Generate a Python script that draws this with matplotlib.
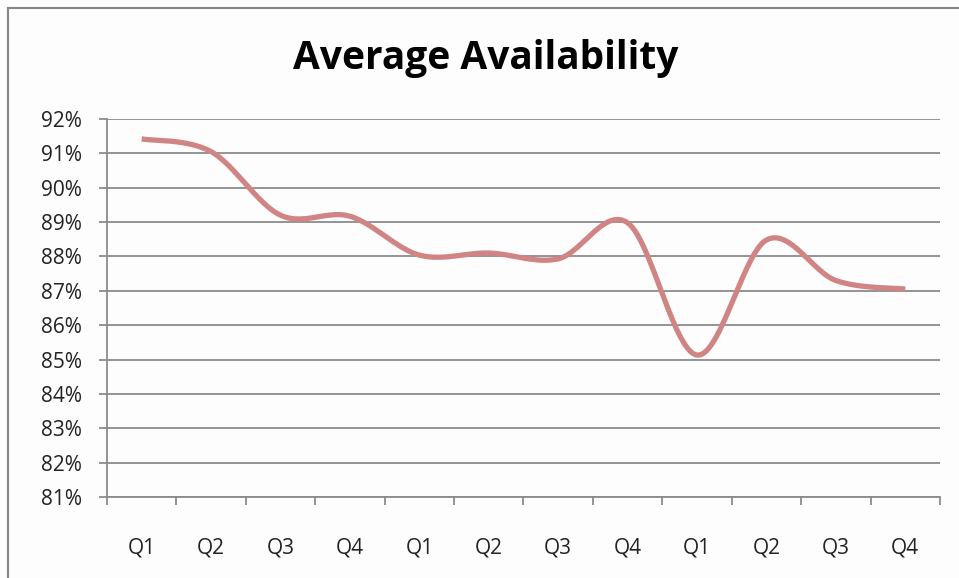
import numpy as np
import matplotlib
matplotlib.use("Agg")
import matplotlib.pyplot as plt
from matplotlib.lines import Line2D
from matplotlib.ticker import FixedLocator, FuncFormatter

quarters = ["Q1", "Q2", "Q3", "Q4", "Q1", "Q2", "Q3", "Q4", "Q1", "Q2", "Q3", "Q4"]
availability = [91.42, 91.05, 89.2, 89.17, 88.04, 88.1, 87.93, 88.98, 85.13, 88.48, 87.3, 87.05]
y_ticks = [81, 82, 83, 84, 85, 86, 87, 88, 89, 90, 91, 92]

plt.rcParams['font.family'] = ['Open Sans', 'DejaVu Sans']


def smooth_line(x, y, steps=30):
    # excel style smoothing: bezier segments with catmull-rom control points
    x = np.asarray(x, float)
    y = np.asarray(y, float)
    px = np.concatenate(([x[0]], x, [x[-1]]))
    py = np.concatenate(([y[0]], y, [y[-1]]))
    xs, ys = [], []
    t = np.linspace(0, 1, steps)
    for i in range(1, len(px) - 2):
        p0 = np.array([px[i], py[i]])
        p3 = np.array([px[i + 1], py[i + 1]])
        p1 = p0 + (p3 - np.array([px[i - 1], py[i - 1]])) / 6
        p2 = p3 - (np.array([px[i + 2], py[i + 2]]) - p0) / 6
        seg = ((1 - t) ** 3)[:, None] * p0 + (3 * (1 - t) ** 2 * t)[:, None] * p1 \
            + (3 * (1 - t) * t ** 2)[:, None] * p2 + (t ** 3)[:, None] * p3
        xs.extend(seg[:, 0])
        ys.extend(seg[:, 1])
    return np.array(xs), np.array(ys)


fig = plt.figure(figsize=(9.59, 5.78), dpi=100)
fig.patch.set_facecolor('#fdfdfd')
ax = fig.add_axes([107 / 959, 1 - 497 / 578, (940 - 107) / 959, (497 - 119) / 578])
ax.set_facecolor('#fdfdfd')

xpos = np.arange(1, len(quarters) + 1)
sx, sy = smooth_line(xpos, availability)
ax.plot(sx, sy, color='#d08584', linewidth=3.8, solid_capstyle='butt')

ax.set_xlim(0.5, len(quarters) + 0.5)
ax.set_ylim(81, 92)
ax.set_yticks(y_ticks)
ax.yaxis.set_major_formatter(FuncFormatter(lambda v, p: f"{v:.0f}%"))
ax.grid(axis='y', color='#8c8c8c', linewidth=1.3)
ax.set_axisbelow(True)

ax.set_xticks(xpos)
ax.set_xticklabels(quarters)
ax.xaxis.set_minor_locator(FixedLocator(np.arange(0.5, len(quarters) + 1, 1)))
ax.tick_params(axis='x', which='major', length=0, pad=29, labelsize=15, labelcolor='#222222')
ax.tick_params(axis='x', which='minor', length=6, width=1.3, color='#8c8c8c', direction='out')
ax.tick_params(axis='y', length=6, width=1.3, color='#8c8c8c', pad=12, labelsize=15, labelcolor='#222222')

for side in ['top', 'right']:
    ax.spines[side].set_visible(False)
for side in ['left', 'bottom']:
    ax.spines[side].set_color('#8c8c8c')
    ax.spines[side].set_linewidth(1.3)

fig.text(486 / 959, 1 - 59 / 578, "Average Availability", ha='center', va='center',
         fontsize=28, fontweight='bold', color='#000000')

# outer chart border (left and top only are visible)
fig.add_artist(Line2D([7.5 / 959, 7.5 / 959], [0, 1 - 7.5 / 578], color='#868686', linewidth=1.5))
fig.add_artist(Line2D([7.5 / 959, 1], [1 - 7.5 / 578, 1 - 7.5 / 578], color='#868686', linewidth=1.5))

fig.savefig("out.png", dpi=100, facecolor=fig.get_facecolor())
